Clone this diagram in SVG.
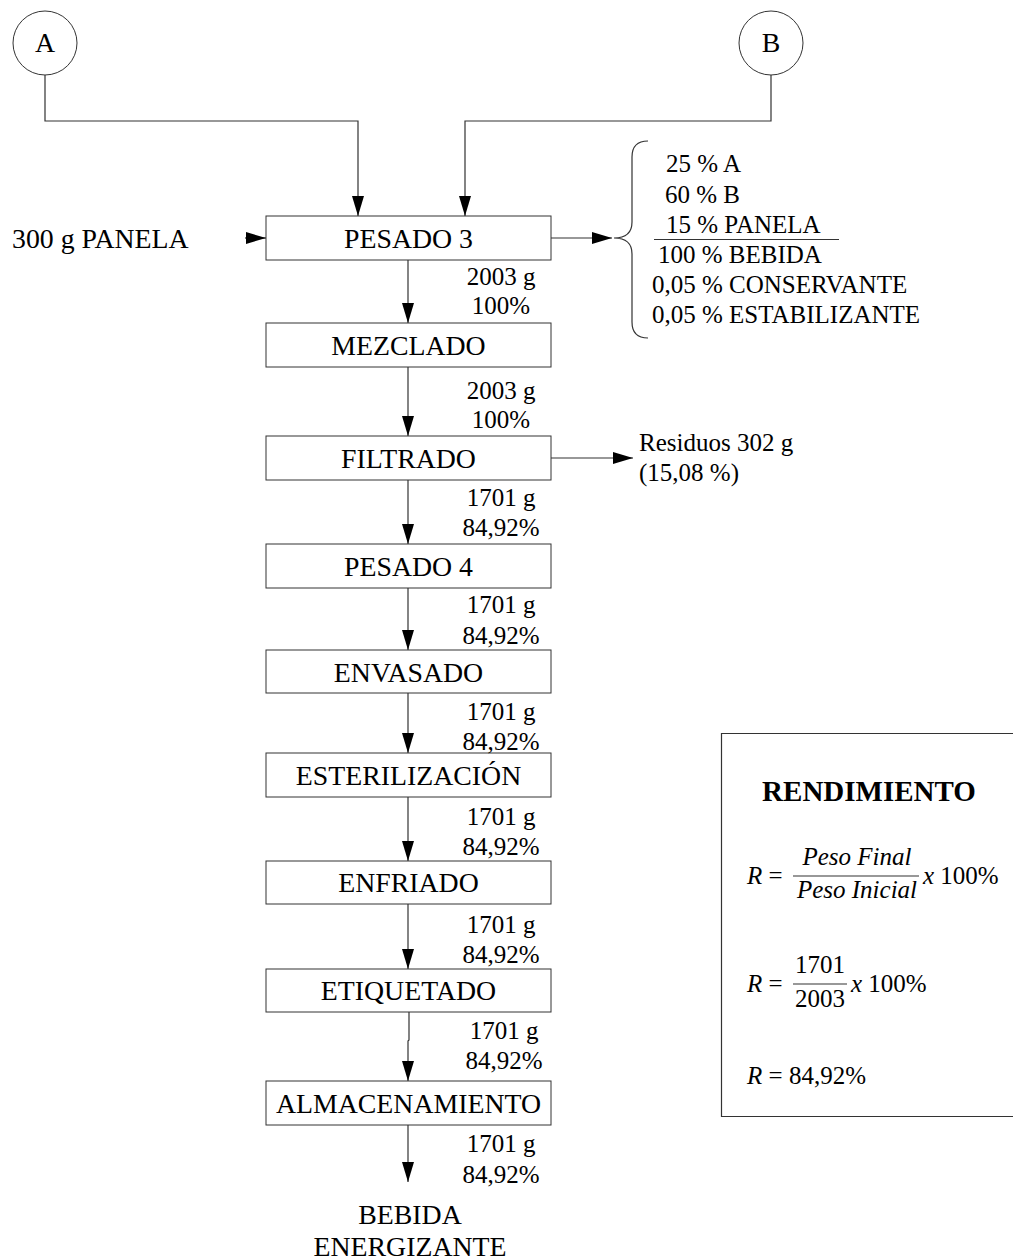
<svg xmlns="http://www.w3.org/2000/svg" width="1013" height="1260" viewBox="0 0 1013 1260">
<defs>
<marker id="ah" markerUnits="userSpaceOnUse" markerWidth="20" markerHeight="12" refX="20" refY="6" orient="auto">
<path d="M0,0 L20,6 L0,12 z" fill="#000"/>
</marker>
<style>
.box{fill:#fff;stroke:#333;stroke-width:1}
.ln{fill:none;stroke:#333;stroke-width:1.2}
.arr{fill:none;stroke:#333;stroke-width:1.2;marker-end:url(#ah)}
.t{font-family:"Liberation Serif","Times New Roman",serif;font-size:27.8px;fill:#000}
.c{text-anchor:middle}
.lb{font-family:"Liberation Serif","Times New Roman",serif;font-size:25px;fill:#000;text-anchor:middle}
.s{font-family:"Liberation Serif","Times New Roman",serif;font-size:25px;fill:#000}
.m{font-family:"Liberation Serif","Times New Roman",serif;font-size:25px;fill:#000}
.i{font-style:italic}
</style>
</defs>
<rect width="1013" height="1260" fill="#fff"/>

<g id="connectors">
<path class="arr" d="M45,75 V121 H358 V216"/>
<path class="arr" d="M771,75 V121 H465 V216"/>
<path class="arr" d="M245,238 H266"/>
<path class="arr" d="M551,238 H612"/>
<path class="arr" d="M408,260 V323"/>
<path class="arr" d="M408,367 V436"/>
<path class="arr" d="M551,458 H633"/>
<path class="arr" d="M408,480 V544"/>
<path class="arr" d="M408,588 V650"/>
<path class="arr" d="M408,693 V753"/>
<path class="arr" d="M408,797 V861"/>
<path class="arr" d="M408,904 V969"/>
<path class="arr" d="M409,1012 V1040 L408,1041 V1081"/>
<path class="arr" d="M408,1125 V1182"/>
</g>

<g id="nodeA"><circle cx="45" cy="43" r="32" class="box"/><text class="t c" x="45" y="52">A</text></g>
<g id="nodeB"><circle cx="771" cy="43" r="32" class="box"/><text class="t c" x="771" y="52">B</text></g>

<g id="panela"><text class="t" x="12" y="247.5">300 g PANELA</text></g>

<g id="pesado3"><rect class="box" x="266" y="216" width="285" height="44"/><text class="t c" x="408.5" y="247.5">PESADO 3</text></g>
<g id="mezclado"><rect class="box" x="266" y="323" width="285" height="44"/><text class="t c" x="408.5" y="354.5">MEZCLADO</text></g>
<g id="filtrado"><rect class="box" x="266" y="436" width="285" height="44"/><text class="t c" x="408.5" y="467.5">FILTRADO</text></g>
<g id="pesado4"><rect class="box" x="266" y="544" width="285" height="44"/><text class="t c" x="408.5" y="575.5">PESADO 4</text></g>
<g id="envasado"><rect class="box" x="266" y="650" width="285" height="43"/><text class="t c" x="408.5" y="681.5">ENVASADO</text></g>
<g id="esterilizacion"><rect class="box" x="266" y="753" width="285" height="44"/><text class="t c" x="408.5" y="784.5">ESTERILIZACIÓN</text></g>
<g id="enfriado"><rect class="box" x="266" y="861" width="285" height="43"/><text class="t c" x="408.5" y="891.5">ENFRIADO</text></g>
<g id="etiquetado"><rect class="box" x="266" y="969" width="285" height="43"/><text class="t c" x="408.5" y="999.5">ETIQUETADO</text></g>
<g id="almacenamiento"><rect class="box" x="266" y="1081" width="285" height="44"/><text class="t c" x="408.5" y="1112.5">ALMACENAMIENTO</text></g>

<g id="labels">
<text class="lb" x="501" y="285">2003 g</text><text class="lb" x="501" y="314">100%</text>
<text class="lb" x="501" y="399">2003 g</text><text class="lb" x="501" y="428">100%</text>
<text class="lb" x="501" y="506">1701 g</text><text class="lb" x="501" y="536">84,92%</text>
<text class="lb" x="501" y="613">1701 g</text><text class="lb" x="501" y="644">84,92%</text>
<text class="lb" x="501" y="720">1701 g</text><text class="lb" x="501" y="750">84,92%</text>
<text class="lb" x="501" y="825">1701 g</text><text class="lb" x="501" y="855">84,92%</text>
<text class="lb" x="501" y="933">1701 g</text><text class="lb" x="501" y="963">84,92%</text>
<text class="lb" x="504" y="1039">1701 g</text><text class="lb" x="504" y="1069">84,92%</text>
<text class="lb" x="501" y="1152">1701 g</text><text class="lb" x="501" y="1183">84,92%</text>
</g>

<g id="composicion">
<path class="ln" d="M648,141 Q632,141 632,157 L632,222 Q632,238 614,238 Q632,238 632,254 L632,322 Q632,338 648,338"/>
<text class="s" x="666" y="172">25 % A</text>
<text class="s" x="665" y="203">60 % B</text>
<text class="s" x="666" y="233">15 % PANELA</text>
<line class="ln" x1="654" y1="239.5" x2="839" y2="239.5"/>
<text class="s" x="658" y="263">100 % BEBIDA</text>
<text class="s" x="652" y="293">0,05 % CONSERVANTE</text>
<text class="s" x="652" y="323">0,05 % ESTABILIZANTE</text>
</g>

<g id="residuos">
<text class="s" x="639" y="451">Residuos 302 g</text>
<text class="s" x="639" y="481">(15,08 %)</text>
</g>

<g id="producto">
<text class="t c" x="410" y="1224">BEBIDA</text>
<text class="t c" x="410" y="1256">ENERGIZANTE</text>
</g>

<g id="rendimiento">
<path class="ln" d="M1013,733.5 H721.5 V1116.5 H1013"/>
<text x="869" y="801" text-anchor="middle" style="font-family:'Liberation Serif',serif;font-size:29px;font-weight:bold">RENDIMIENTO</text>
<text class="m" x="747" y="884"><tspan class="i">R</tspan> =</text>
<text class="m i" x="857" y="865" text-anchor="middle">Peso Final</text>
<line class="ln" x1="793" y1="876" x2="919" y2="876"/>
<text class="m i" x="857" y="898" text-anchor="middle">Peso Inicial</text>
<text class="m" x="923" y="884"><tspan class="i">x</tspan> 100%</text>
<text class="m" x="747" y="992"><tspan class="i">R</tspan> =</text>
<text class="m" x="820" y="973" text-anchor="middle">1701</text>
<line class="ln" x1="793" y1="984" x2="847" y2="984"/>
<text class="m" x="820" y="1007" text-anchor="middle">2003</text>
<text class="m" x="851" y="992"><tspan class="i">x</tspan> 100%</text>
<text class="m" x="747" y="1084"><tspan class="i">R</tspan> = 84,92%</text>
</g>
</svg>
